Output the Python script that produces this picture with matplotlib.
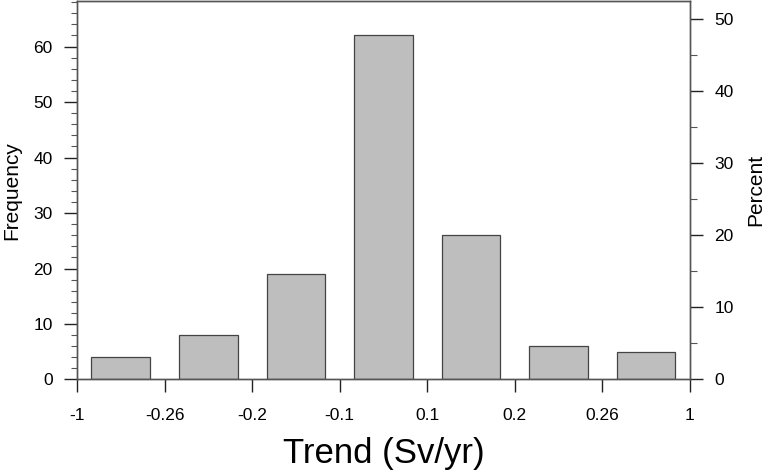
import numpy as np
import matplotlib.pyplot as plt
from matplotlib.ticker import MultipleLocator

plt.rcParams['font.family'] = ['Liberation Sans', 'DejaVu Sans']

# histogram counts per bin
bin_labels = ["-1", "-0.26", "-0.2", "-0.1", "0.1", "0.2", "0.26", "1"]
counts = [4, 8, 19, 62, 26, 6, 5]

counts = np.asarray(counts)
total = counts.sum()
ymax = 68.2

fig = plt.figure(figsize=(7.68, 4.73), dpi=100)
ax = fig.add_axes([0.1003, 0.1977, 0.798, 0.8])

x = np.arange(len(counts)) + 0.5
ax.bar(x, counts, width=0.67, color="#bebebe", edgecolor="#444444", linewidth=0.9, zorder=2)

ax.set_xlim(0, len(counts))
ax.set_ylim(0, ymax)
ax.set_xticks(np.arange(len(bin_labels)))
ax.set_xticklabels(bin_labels)
ax.yaxis.set_major_locator(MultipleLocator(10))
ax.yaxis.set_minor_locator(MultipleLocator(2))

for s in ax.spines.values():
    s.set_color("#555555")
    s.set_linewidth(1.0)

ax.tick_params(axis="x", direction="out", length=9.5, width=1.0, color="#222222",
               labelsize=12.5, pad=11)
ax.tick_params(axis="y", which="major", direction="out", length=9.5, width=1.0,
               color="#222222", labelsize=12.5, pad=8)
ax.tick_params(axis="y", which="minor", direction="out", length=4.5, width=0.8,
               color="#555555")
ax.set_ylabel("Frequency", fontsize=15, labelpad=9)
ax.set_xlabel("Trend (Sv/yr)", fontsize=25, labelpad=10)

ax2 = ax.twinx()
ax2.set_ylim(0, ymax / total * 100)
ax2.yaxis.set_major_locator(MultipleLocator(10))
ax2.yaxis.set_minor_locator(MultipleLocator(5))
for s in ax2.spines.values():
    s.set_color("#555555")
    s.set_linewidth(1.0)
ax2.tick_params(axis="y", which="major", direction="out", length=9.5, width=1.0,
                color="#222222", labelsize=12.5, pad=8)
ax2.tick_params(axis="y", which="minor", direction="out", length=5, width=0.8,
                color="#555555")
ax2.set_ylabel("Percent", fontsize=15, labelpad=9)

fig.savefig("out.png", dpi=100)
